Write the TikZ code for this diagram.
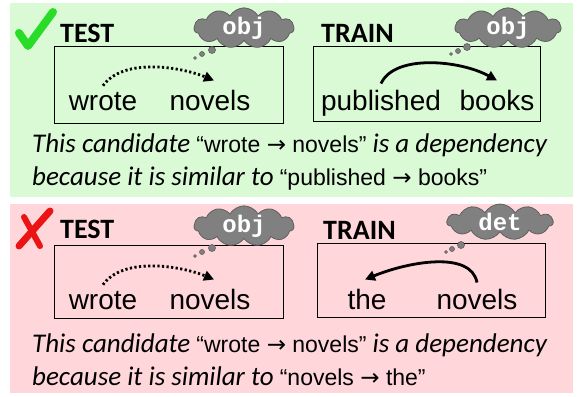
\documentclass[tikz,border=0pt]{standalone}
\usepackage{fontspec}
\setmainfont{Carlito}
\newfontfamily\wf{Liberation Sans}
\newfontfamily\mf{Liberation Mono}
\newfontfamily\djvu{DejaVu Sans}
\usetikzlibrary{arrows.meta,shapes.symbols}
\definecolor{gbg}{RGB}{218,250,214}
\definecolor{rbg}{RGB}{255,214,218}
\definecolor{cloudgray}{RGB}{128,128,128}
\definecolor{cloudline}{RGB}{95,95,95}
\definecolor{checkgreen}{RGB}{40,220,40}
\definecolor{crossred}{RGB}{235,20,20}
\tikzset{
  sentbox/.style={draw=black, line width=1pt},
  word/.style={font=\wf\fontsize{28}{32}\selectfont, inner sep=0pt, anchor=base},
  lbl/.style={font=\bfseries\fontsize{28}{32}\selectfont, inner sep=0pt, anchor=base west},
  sent/.style={font=\fontsize{27}{32}\selectfont, inner sep=0pt, anchor=base west},
  thought/.style={cloud, cloud puffs=11, cloud puff arc=120, cloud ignores aspect, fill=cloudgray, draw=cloudline, line width=0.8pt, inner sep=0pt, text=white, font=\mf\bfseries\fontsize{24}{26}\selectfont},
  bubble/.style={fill=cloudgray, draw=cloudline, line width=0.6pt},
  deparc/.style={line width=2.8pt, -{Triangle[length=10pt,width=10pt]}},
  candarc/.style={line width=2.8pt, dash pattern=on 2.2pt off 2.4pt, -{Triangle[length=10pt,width=10pt]}},
}
\newcommand{\qf}{\wf\fontsize{23}{26}\selectfont}
\newcommand{\ra}{{\djvu →}}
\begin{document}
\begin{tikzpicture}[x=1pt,y=-1pt]
\useasboundingbox (0,0) rectangle (580,396);
\fill[white] (0,0) rectangle (580,396);
% panels
\fill[gbg] (10,3) rectangle (573,197);
\fill[rbg] (10,204) rectangle (573,393);

% ===== green panel =====
\draw[checkgreen, line width=8pt, line cap=round, line join=round] (19,33) -- (28,46) -- (53,12);
\node[lbl] (gtestl) at (60,42) {TEST};
\node[lbl] (gtrainl) at (321,42) {TRAIN};
\draw[sentbox] (54,47) rectangle (283,123);
\draw[sentbox] (313,47) rectangle (540,121);
\node[word] (gw1) at (103,110) {wrote};
\node[word] (gw2) at (210,110) {novels};
\node[word] (gp1) at (381,110) {published};
\node[word] (gp2) at (497,110) {books};
\draw[candarc] ([yshift=6pt]gw1.north) .. controls +(20,-28) and +(-34,-14) .. ([xshift=4pt,yshift=9pt]gw2.north);
\draw[deparc] ([yshift=6pt]gp1.north) .. controls +(14,-30) and +(-36,-20) .. ([yshift=9pt]gp2.north);
\node[thought, minimum width=100pt, minimum height=36pt] (gc1) at (244,28) {obj};
\node[thought, minimum width=106pt, minimum height=34pt] (gc2) at (508,28) {obj};
\draw[bubble] (212,50) circle[radius=3.5pt];
\draw[bubble] (202,54) circle[radius=2.5pt];
\draw[bubble] (195,58) circle[radius=1.5pt];
\draw[bubble] (467,47) circle[radius=3.5pt];
\draw[bubble] (458,51) circle[radius=2.5pt];
\draw[bubble] (451,54) circle[radius=1.5pt];
\node[sent] (gs1) at (32,152) {{\itshape This candidate} {\qf “wrote \ra\ novels”} {\itshape is a dependency}};
\node[sent] (gs2) at (32,185) {{\itshape because it is similar to} {\qf “published \ra\ books”}};

% ===== red panel =====
\draw[crossred, line width=7pt, line cap=round] (50,211) -- (19,246);
\draw[crossred, line width=6pt, line cap=round] (24,217) -- (40,246);
\node[lbl] (rtestl) at (60,238) {TEST};
\node[lbl] (rtrainl) at (323,239) {TRAIN};
\draw[sentbox] (54,245) rectangle (283,318);
\draw[sentbox] (317,243) rectangle (545,317);
\node[word] (rw1) at (103,309) {wrote};
\node[word] (rw2) at (210,309) {novels};
\node[word] (rt1) at (367,309) {the};
\node[word] (rt2) at (477,309) {novels};
\draw[candarc] ([yshift=6pt]rw1.north) .. controls +(20,-28) and +(-34,-14) .. ([xshift=4pt,yshift=9pt]rw2.north);
\draw[deparc] ([yshift=6pt]rt2.north) .. controls +(-6,-32) and +(44,-18) .. ([xshift=-2pt,yshift=9pt]rt1.north);
\node[thought, minimum width=100pt, minimum height=34pt] (rc1) at (244,226) {obj};
\node[thought, minimum width=106pt, minimum height=36pt] (rc2) at (500,222) {det};
\draw[bubble] (212,248) circle[radius=3.5pt];
\draw[bubble] (202,252) circle[radius=2.5pt];
\draw[bubble] (195,256) circle[radius=1.5pt];
\draw[bubble] (461,245) circle[radius=3.5pt];
\draw[bubble] (452,249) circle[radius=2.5pt];
\draw[bubble] (446,252) circle[radius=1.5pt];
\node[sent] (rs1) at (32,352) {{\itshape This candidate} {\qf “wrote \ra\ novels”} {\itshape is a dependency}};
\node[sent] (rs2) at (32,385) {{\itshape because it is similar to} {\qf “novels \ra\ the”}};
\end{tikzpicture}
\end{document}
